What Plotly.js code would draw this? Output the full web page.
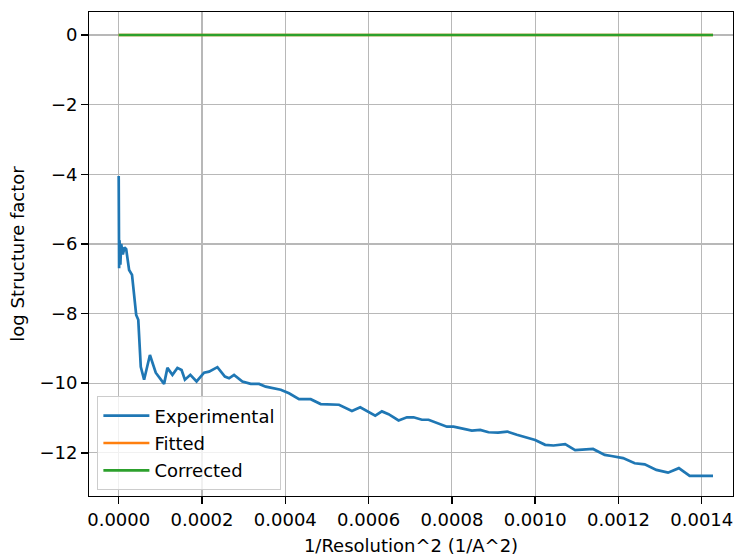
<!DOCTYPE html>
<html>
<head>
<meta charset="utf-8">
<script src="https://cdn.plot.ly/plotly-3.0.1.min.js"></script>
<style>html,body{margin:0;padding:0;background:#fff;}#chart{width:741px;height:558px;}</style>
</head>
<body>
<div id="chart"></div>
<script>
// 1/Resolution^2 (1/A^2)
const expX = [0.000000, 0.000001, 0.000002, 0.000004, 0.000006, 0.000010, 0.000014, 0.000018, 0.000025, 0.000032,
  0.000042, 0.000047, 0.000053, 0.000061, 0.000075, 0.000089, 0.000109, 0.000117, 0.000129, 0.000141,
  0.000151, 0.000159, 0.000172, 0.000187, 0.000205, 0.000217, 0.000237, 0.000255, 0.000265, 0.000277,
  0.000297, 0.000317, 0.000337, 0.000353, 0.000381, 0.000389, 0.000409, 0.000433, 0.000461, 0.000485,
  0.000529, 0.000560, 0.000580, 0.000616, 0.000632, 0.000648, 0.000672, 0.000692, 0.000708, 0.000728,
  0.000744, 0.000764, 0.000788, 0.000804, 0.000824, 0.000848, 0.000868, 0.000888, 0.000911, 0.000933,
  0.000956, 0.000980, 0.001000, 0.001024, 0.001044, 0.001072, 0.001096, 0.001139, 0.001167, 0.001183,
  0.001211, 0.001239, 0.001263, 0.001291, 0.001319, 0.001345, 0.001371, 0.001427];
// log Structure factor (experimental)
const expY = [-4.05, -6.70, -5.90, -6.60, -6.00, -6.30, -6.10, -6.15, -6.75, -6.89,
  -8.04, -8.18, -9.53, -9.90, -9.19, -9.70, -10.02, -9.56, -9.76, -9.56,
  -9.62, -9.90, -9.76, -9.95, -9.70, -9.67, -9.54, -9.81, -9.86, -9.76,
  -9.95, -10.02, -10.02, -10.10, -10.17, -10.19, -10.29, -10.46, -10.46, -10.60,
  -10.62, -10.80, -10.69, -10.93, -10.81, -10.89, -11.07, -10.98, -10.98, -11.05,
  -11.05, -11.15, -11.25, -11.25, -11.30, -11.36, -11.34, -11.41, -11.42, -11.39,
  -11.48, -11.56, -11.63, -11.77, -11.79, -11.75, -11.92, -11.89, -12.06, -12.09,
  -12.15, -12.30, -12.33, -12.49, -12.57, -12.44, -12.66, -12.66];
const fitX = [0.000000, 0.001427];
const fitY = [0, 0];
const corX = [0.000000, 0.001427];
const corY = [0, 0];
const xTickVals = [0, 0.0002, 0.0004, 0.0006, 0.0008, 0.0010, 0.0012, 0.0014];
const yTickVals = [0, -2, -4, -6, -8, -10, -12];

const FONT = 'DejaVu Sans, sans-serif';
const FS = 18;
const traces = [
  {x: expX, y: expY, mode: 'lines', name: 'Experimental', legendgroup: 'a', line: {color: '#1f77b4', width: 2.7}},
  {x: fitX, y: fitY, mode: 'lines', name: 'Fitted', legendgroup: 'b', line: {color: '#ff7f0e', width: 2.7}},
  {x: corX, y: corY, mode: 'lines', name: 'Corrected', legendgroup: 'c', line: {color: '#2ca02c', width: 2.7}}
];
const axisCommon = {
  showline: true, mirror: true, linecolor: '#000', linewidth: 1.4,
  ticks: 'outside', ticklen: 6.5, tickwidth: 1.4, tickcolor: '#000',
  showgrid: true, gridcolor: '#b8b8b8', gridwidth: 1.2, zeroline: false,
  tickfont: {family: FONT, size: FS, color: '#000'}
};
const layout = {
  width: 741, height: 558,
  margin: {l: 89, r: 8, t: 12, b: 62},
  paper_bgcolor: '#fff', plot_bgcolor: '#fff',
  font: {family: FONT, size: FS, color: '#000'},
  showlegend: true,
  xaxis: Object.assign({}, axisCommon, {
    range: [-0.0000713, 0.001475], tickvals: xTickVals, tickformat: '.4f',
    title: {text: '1/Resolution^2 (1/A^2)', font: {family: FONT, size: FS, color: '#000'}, standoff: 11}
  }),
  yaxis: Object.assign({}, axisCommon, {
    range: [-13.24, 0.66], tickvals: yTickVals,
    title: {text: 'log Structure factor', font: {family: FONT, size: FS, color: '#000'}, standoff: 10}
  }),
  legend: {
    x: 0.0124, y: 0.0124, xanchor: 'left', yanchor: 'bottom',
    bgcolor: 'rgba(255,255,255,0.8)', bordercolor: '#cccccc', borderwidth: 1.4,
    font: {family: FONT, size: FS, color: '#000'},
    tracegroupgap: 1, itemwidth: 46
  }
};
Plotly.newPlot('chart', traces, layout, {displayModeBar: false, staticPlot: true});
</script>
</body>
</html>
